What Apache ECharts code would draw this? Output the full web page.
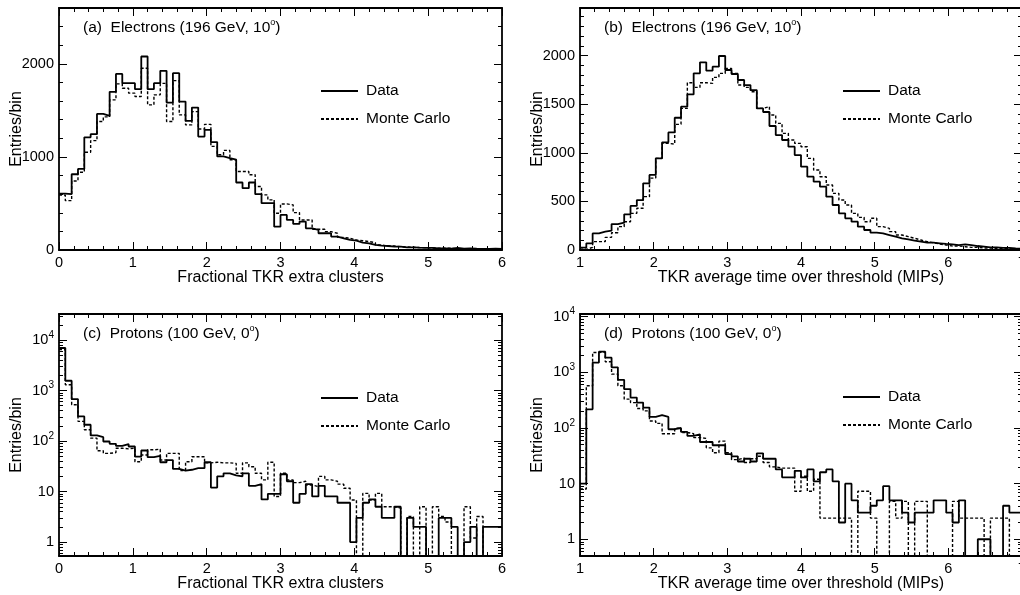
<!DOCTYPE html>
<html>
<head>
<meta charset="utf-8">
<script src="https://cdn.jsdelivr.net/npm/echarts@6.0.0/dist/echarts.min.js"></script>
<style>
  html, body { margin: 0; padding: 0; background: #fff; }
  #main { width: 1020px; height: 595px; }
</style>
</head>
<body>
<div id="main"></div>
<script>
var font = "'Liberation Sans', Arial, Helvetica, sans-serif";

// every histogram: 70 bins over a range of 6 units
var nBins = 70;
var xNameTkr = 'Fractional TKR extra clusters';
var xNameTot = 'TKR average time over threshold (MIPs)';
var yName = 'Entries/bin';
var titles = [
  '(a)  Electrons (196 GeV, 10{sup|o})',
  '(b)  Electrons (196 GeV, 10{sup|o})',
  '(c)  Protons (100 GeV, 0{sup|o})',
  '(d)  Protons (100 GeV, 0{sup|o})'
];

// (a) electrons, fractional extra clusters
var aData = [605, 600, 814, 871, 1211, 1244, 1462, 1441, 1699, 1892,
  1792, 1792, 1728, 2079, 1728, 1792, 1925, 1584, 1900, 1595,
  1387, 1530, 1219, 1290, 1160, 1005, 987, 970, 725, 664,
  725, 600, 503, 503, 251, 377, 323, 280, 305, 233,
  215, 180, 180, 144, 126, 108, 100, 79, 72, 54,
  47, 43, 36, 36, 29, 29, 25, 22, 22, 18,
  18, 14, 22, 14, 18, 14, 11, 11, 14, 11];
var aMC = [590, 530, 742, 835, 1050, 1175, 1380, 1430, 1613, 1785,
  1738, 1685, 1649, 1953, 1559, 1667, 1790, 1380, 1820, 1452,
  1344, 1487, 1300, 1350, 1113, 1023, 1070, 970, 844, 844,
  808, 682, 592, 539, 395, 495, 485, 402, 323, 323,
  223, 223, 197, 180, 136, 126, 108, 100, 90, 79,
  54, 43, 43, 36, 32, 29, 25, 25, 22, 20,
  18, 18, 14, 14, 14, 11, 11, 11, 9, 9];

// (b) electrons, average time over threshold
var bData = [24, 69, 171, 189, 199, 267, 281, 367, 453, 514,
  686, 772, 943, 1108, 1210, 1361, 1475, 1601, 1818, 1931,
  1845, 1886, 1996, 1852, 1811, 1749, 1697, 1646, 1457, 1420,
  1276, 1183, 1132, 1063, 977, 857, 754, 703, 652, 549,
  463, 377, 326, 291, 240, 206, 178, 171, 154, 137,
  120, 110, 96, 86, 75, 75, 69, 62, 58, 51,
  58, 51, 41, 34, 27, 27, 21, 21, 17, 14];
var bMC = [7, 27, 86, 86, 130, 178, 240, 291, 377, 429,
  549, 740, 943, 1097, 1090, 1293, 1457, 1721, 1673, 1721,
  1714, 1776, 1817, 1869, 1817, 1697, 1673, 1629, 1457, 1475,
  1389, 1303, 1200, 1132, 1097, 1063, 943, 823, 754, 669,
  583, 514, 463, 377, 336, 291, 326, 240, 223, 189,
  154, 137, 120, 103, 86, 75, 62, 51, 41, 41,
  34, 27, 27, 21, 21, 17, 14, 14, 10, 10];

// (c) protons, fractional extra clusters (log scale)
var cData = [6940, 1560, 676, 307, 210, 129, 119, 98, 88, 80,
  87, 78, 49, 65, 48, 51, 38, 42, 28, 26,
  27, 29, 29, 38, 12, 20, 23, 21, 20, 23,
  13, 14, 7, 9, 9, 22, 16, 6, 9, 14,
  8, 13, 8, 8, 6, 6, 1, 3, 6, 7,
  5, 3, 3, 5, 0, 3, 2, 2, 0, 0,
  3, 3, 2, 0, 1, 2, 0, 2, 2, 2];
var cMC = [6500, 1300, 524, 245, 167, 114, 64, 57, 59, 72,
  70, 72, 39, 53, 67, 69, 42, 57, 57, 26,
  39, 49, 49, 37, 38, 37, 37, 36, 23, 37,
  31, 23, 17, 38, 8, 23, 17, 15, 16, 13.5,
  12.5, 20, 17, 16, 14, 11.6, 6.8, 0, 9.2, 6.8,
  9.2, 5, 5, 4.7, 0, 3.2, 0, 5, 0, 5,
  3.2, 2.5, 0, 0, 5, 1.2, 3.2, 0, 0, 0];

// (d) protons, average time over threshold (log scale)
var dData = [10, 217, 1500, 2350, 1840, 1230, 733, 500, 352, 286,
  233, 158, 170, 158, 95, 100, 85, 72, 77, 56,
  56, 49, 49, 34, 31, 25, 28, 25, 35, 28,
  28, 18, 13, 13, 17, 13, 18, 11, 16, 18,
  11, 2, 10, 5, 3, 3, 4, 5, 9, 5,
  5, 3, 2, 3, 3, 3, 5, 5, 3, 2,
  5, 0, 0, 1, 1, 0, 0, 4, 3, 3];
var dMC = [8, 575, 2280, 2300, 1550, 930, 575, 330, 286, 224,
  203, 134, 121, 79, 79, 99, 83, 79, 67, 65,
  44, 36, 58, 36, 27, 29, 24, 28, 31, 24,
  20, 19, 19, 19, 7.3, 13.6, 7.3, 12, 2.4, 2.4,
  2.4, 2.4, 2.4, 0, 7.3, 7.3, 2.4, 0, 0, 4.8,
  2.4, 4.8, 0, 4.8, 4.8, 0, 0, 0, 0, 4.8,
  2.4, 2.4, 2.4, 2.4, 0, 2.4, 2.4, 2.4, 0, 0];

// tick values
var linLabelsA = [0, 1000, 2000];
var linLabelsB = [0, 500, 1000, 1500, 2000];
var logLabels = [1, 10, 100, 1000, 10000];

function range(from, to, step) {
  var r = [];
  for (var v = from; v <= to + 1e-9; v += step) r.push(Math.round(v * 1000) / 1000);
  return r;
}
var logMinor = [];
[0.1, 1, 10, 100, 1000, 10000].forEach(function (d) {
  for (var m = 2; m <= 9; m++) logMinor.push(d * m);
});

var panels = [
  { grid: { left: 59, top: 8, width: 443, height: 242 }, xMin: 0, xName: xNameTkr,
    yType: 'value', yMin: 0, yMax: 2600, major: linLabelsA, minor: range(0, 2600, 200),
    data: aData, mc: aMC, title: titles[0], leg: { left: 320, top: 83 } },
  { grid: { left: 580, top: 8, width: 442, height: 242 }, xMin: 1, xName: xNameTot,
    yType: 'value', yMin: 0, yMax: 2490, major: linLabelsB, minor: range(0, 2490, 100),
    data: bData, mc: bMC, title: titles[1], leg: { left: 842, top: 83 } },
  { grid: { left: 59, top: 314, width: 443, height: 242 }, xMin: 0, xName: xNameTkr,
    yType: 'log', yMin: 0.53, yMax: 32700, major: logLabels, minor: logMinor,
    data: cData, mc: cMC, title: titles[2], leg: { left: 320, top: 390 } },
  { grid: { left: 580, top: 314, width: 442, height: 242 }, xMin: 1, xName: xNameTot,
    yType: 'log', yMin: 0.5, yMax: 11200, major: logLabels, minor: logMinor,
    data: dData, mc: dMC, title: titles[3], leg: { left: 842, top: 389 } }
];

function histPoints(lo, vals, floor) {
  var pts = [];
  for (var i = 0; i < vals.length; i++) {
    pts.push([lo + i * 6 / nBins, vals[i] > 0 ? vals[i] : floor]);
  }
  pts.push([lo + 6, pts[pts.length - 1][1]]);
  return pts;
}

function logLabel(v) {
  var e = Math.round(Math.log(v) / Math.LN10);
  if (e === 0) return '1';
  if (e === 1) return '10';
  return '10{sup|' + e + '}';
}

var black = '#000';
var frame = { onZero: false, lineStyle: { color: black, width: 1.8 } };
var labelText = { color: black, fontSize: 14.5, fontFamily: font };

var option = {
  animation: false,
  backgroundColor: '#fff',
  grid: [], xAxis: [], yAxis: [], series: [], title: [], legend: []
};

panels.forEach(function (p, i) {
  option.grid.push(Object.assign({ containLabel: false, outerBoundsMode: 'none' }, p.grid));

  var xBase = {
    type: 'value', gridIndex: i, min: p.xMin, max: p.xMin + 6, interval: 1,
    axisLine: frame,
    axisTick: { inside: true, length: 8, lineStyle: { color: black, width: 1 } },
    minorTick: { show: true, splitNumber: 5, length: 4, lineStyle: { color: black, width: 1 } },
    splitLine: { show: false }, minorSplitLine: { show: false }
  };
  option.xAxis.push(Object.assign({}, xBase, {
    position: 'bottom',
    axisLabel: Object.assign({ margin: 5, formatter: function (v) { return String(v); } }, labelText),
    name: p.xName, nameLocation: 'middle', nameGap: 20, nameMoveOverlap: false,
    nameTextStyle: { color: black, fontSize: 16, fontFamily: font }
  }));
  option.xAxis.push(Object.assign({}, xBase, { position: 'top', axisLabel: { show: false } }));

  var isLog = p.yType === 'log';
  var yBase = { type: p.yType, gridIndex: i, min: p.yMin, max: p.yMax, splitLine: { show: false } };
  if (isLog) yBase.logBase = 10;

  ['left', 'right'].forEach(function (side) {
    var major = Object.assign({}, yBase, {
      position: side, axisLine: frame,
      axisTick: { inside: true, length: 8, customValues: p.major, lineStyle: { color: black, width: 1 } },
      axisLabel: { show: false }
    });
    if (side === 'left') {
      major.axisLabel = Object.assign({
        margin: 5, customValues: p.major,
        formatter: isLog ? logLabel : function (v) { return String(v); },
        lineHeight: 20,
        rich: { sup: { fontSize: 10, lineHeight: 10, verticalAlign: 'top', color: black, fontFamily: font } }
      }, labelText);
      major.name = yName;
      major.nameLocation = 'middle';
      major.nameGap = 34;
      major.nameMoveOverlap = false;
      major.nameTextStyle = { color: black, fontSize: 16, fontFamily: font };
    }
    option.yAxis.push(major);
    option.yAxis.push(Object.assign({}, yBase, {
      position: side, axisLine: { show: false, onZero: false },
      axisTick: { inside: true, length: 4, customValues: p.minor, lineStyle: { color: black, width: 1 } },
      axisLabel: { show: false }
    }));
  });

  var floor = isLog ? 0.2 : 0;
  option.series.push({
    name: 'Monte Carlo', type: 'line', xAxisIndex: 2 * i, yAxisIndex: 4 * i,
    data: histPoints(p.xMin, p.mc, floor), step: 'end', symbol: 'none', clip: true, silent: true,
    lineStyle: { color: black, width: 1.4, type: [3, 2] }, itemStyle: { color: black }, z: 3
  });
  option.series.push({
    name: 'Data', type: 'line', xAxisIndex: 2 * i, yAxisIndex: 4 * i,
    data: histPoints(p.xMin, p.data, floor), step: 'end', symbol: 'none', clip: true, silent: true,
    lineStyle: { color: black, width: 1.8 }, itemStyle: { color: black }, z: 4
  });

  option.title.push({
    text: p.title, left: p.grid.left + 24, top: p.grid.top + 10, padding: 0,
    textStyle: {
      color: black, fontSize: 15.5, fontWeight: 'normal', fontFamily: font, lineHeight: 20,
      rich: { sup: { fontSize: 9, lineHeight: 9, verticalAlign: 'top', color: black, fontFamily: font } }
    }
  });

  option.legend.push({
    data: ['Data', 'Monte Carlo'], orient: 'vertical', left: p.leg.left, top: p.leg.top,
    padding: 0, itemWidth: 37, itemHeight: 14, itemGap: 12, selectedMode: false,
    itemStyle: { opacity: 0, borderWidth: 0 },
    textStyle: { color: black, fontSize: 15.5, fontFamily: font, lineHeight: 14, padding: [0, 0, 0, 3] }
  });
});

var chart = echarts.init(document.getElementById('main'), null, { renderer: 'canvas' });
chart.setOption(option);
window.addEventListener('resize', function () { chart.resize(); });
</script>
</body>
</html>
